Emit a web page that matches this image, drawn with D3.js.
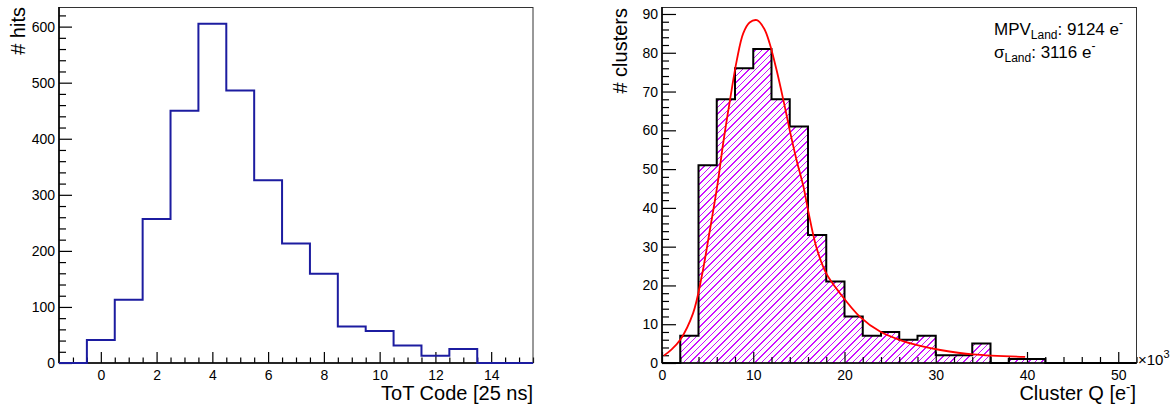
<!DOCTYPE html>
<html>
<head>
<meta charset="utf-8">
<style>
	body { margin: 0; background: #fff; }
	svg text { font-family: "Liberation Sans", Arial, Helvetica, sans-serif; fill: #000; }
</style>
</head>
<body>
<svg width="1175" height="407"></svg>

<script src="https://d3js.org/d3.v7.min.js"></script>
<script>
	// ToT histogram, bins of width 1 centred on the integers
	var totCodes = [-1, 0, 1, 2, 3, 4, 5, 6, 7, 8, 9, 10, 11, 12, 13, 14, 15];
	var totHits = [0, 41, 113, 257, 450, 605, 486, 326, 213, 159, 65, 57, 31, 13, 25, 0, 0];

	// cluster charge (x10^3 e-), lower bin edges, bins of width 2
	var chargeEdges = [0, 2, 4, 6, 8, 10, 12, 14, 16, 18, 20, 22, 24, 26, 28, 30, 32, 34, 36, 38, 40, 42, 44, 46, 48, 50];
	var clusterCounts = [0, 7, 51, 68, 76, 81, 68, 61, 33, 21, 12, 7, 8, 6, 7, 2, 2, 5, 0, 1, 1, 0, 0, 0, 0, 0];

	// landau fit curve
	var fitQ = [0.2, 1.0, 2.0, 3.4, 4.35, 5.25, 6.1, 6.7, 7.45, 8.2, 8.9, 9.6, 10.4, 11.2, 11.8, 12.55, 13.3, 14.0, 14.75, 15.5, 16.0, 16.9, 18.0, 19.5, 21.7, 23.9, 26.1, 28.3, 30.5, 34.1, 39.8];
	var fitN = [1.9, 3.4, 6.0, 12.8, 22.3, 34.3, 46.3, 56.6, 67.8, 78.1, 85.0, 87.8, 88.4, 86.2, 82.4, 75.6, 67.8, 60.0, 52.3, 45.5, 39.5, 30.0, 23.1, 18.0, 11.9, 8.1, 5.9, 4.4, 3.35, 2.2, 1.6];

	var fitLabels = [
		{name: "MPV", sub: "Land", val: ": 9124 e"},
		{name: "\u03c3", sub: "Land", val: ": 3116 e"}
	];

	var svg = d3.select("svg");
	var yTop = 7, yBot = 363;

	function range(a, b, s) {
		var out = [];
		for (var v = a; v <= b + 1e-9; v += s) out.push(+v.toFixed(4));
		return out;
	}

	// draws frame + axes with inward ticks, ROOT style
	function frame(g, x, y, o) {
		var x0 = x.range()[0], x1 = x.range()[1];

		var minorX = range(o.xMinor[0], x.domain()[1], o.xMinor[1]).filter(function(v) { return o.xMajor.indexOf(v) < 0 && v > x.domain()[0]; });
		var minorY = range(0, y.domain()[1], o.yMinor).filter(function(v) { return o.yMajor.indexOf(v) < 0; });

		g.append("g")
			.attr("transform", "translate(0," + yBot + ")")
			.call(d3.axisBottom(x).tickValues(minorX).tickSize(-o.xMin).tickFormat(""))
			.call(function(a) { a.select(".domain").remove(); });
		g.append("g")
			.attr("transform", "translate(0," + yBot + ")")
			.call(d3.axisBottom(x).tickValues(o.xMajor).tickSize(-o.xMaj).tickPadding(7).tickFormat(d3.format("d")))
			.call(function(a) { a.select(".domain").remove(); });

		g.append("g")
			.attr("transform", "translate(" + x0 + ",0)")
			.call(d3.axisLeft(y).tickValues(minorY).tickSize(-o.yMin).tickFormat(""))
			.call(function(a) { a.select(".domain").remove(); });
		g.append("g")
			.attr("transform", "translate(" + x0 + ",0)")
			.call(d3.axisLeft(y).tickValues(o.yMajor).tickSize(-o.yMaj).tickPadding(4).tickFormat(d3.format("d")))
			.call(function(a) { a.select(".domain").remove(); });

		g.selectAll(".tick line").attr("stroke", "#000").attr("stroke-width", 1.2);
		g.selectAll(".tick text")
			.attr("fill", "#000")
			.style("font-size", "14px")
			.style("font-family", "'Liberation Sans', Arial, sans-serif");

		g.append("rect")
			.attr("x", x0).attr("y", yTop + 0.5)
			.attr("width", x1 - x0).attr("height", yBot - yTop - 0.5)
			.attr("fill", "none").attr("stroke", "#333").attr("stroke-width", 1);
		g.append("line")
			.attr("x1", x0).attr("x2", x0).attr("y1", yTop).attr("y2", yBot)
			.attr("stroke", "#000").attr("stroke-width", 1.6);
		g.append("line")
			.attr("x1", x0).attr("x2", x1).attr("y1", yBot).attr("y2", yBot)
			.attr("stroke", "#000").attr("stroke-width", 1.6);
	}

	// ---- left: ToT
	var xL = d3.scaleLinear().domain([-1.5, 15.5]).range([59, 533]);
	var yL = d3.scaleLinear().domain([0, 635]).range([yBot, yTop]);
	var gL = svg.append("g");

	var totPts = totCodes.map(function(c, i) { return [c - 0.5, totHits[i]]; });
	totPts.push([totCodes[totCodes.length - 1] + 0.5, totHits[totHits.length - 1]]);

	frame(gL, xL, yL, {
		xMajor: range(0, 14, 2), xMinor: [-1.5, 0.5], xMaj: 11, xMin: 5.5,
		yMajor: range(0, 600, 100), yMinor: 20, yMaj: 13, yMin: 7
	});

	gL.append("path")
		.datum(totPts)
		.attr("d", d3.line().x(function(d) { return xL(d[0]); }).y(function(d) { return yL(d[1]); }).curve(d3.curveStepAfter))
		.attr("fill", "none")
		.attr("stroke", "#1c1ca0")
		.attr("stroke-width", 2);

	gL.append("text")
		.attr("transform", "translate(25," + yTop + ") rotate(-90)")
		.attr("text-anchor", "end")
		.style("font-size", "20px")
		.text("# hits");
	gL.append("text")
		.attr("x", 533).attr("y", 400)
		.attr("text-anchor", "end")
		.style("font-size", "20px")
		.text("ToT Code [25 ns]");

	// ---- right: cluster charge
	var xR = d3.scaleLinear().domain([0, 52]).range([662, 1136.5]);
	var yR = d3.scaleLinear().domain([0, 91.8]).range([yBot, yTop]);
	var gR = svg.append("g");

	var qPts = chargeEdges.map(function(e, i) { return [e, clusterCounts[i]]; });
	qPts.push([chargeEdges[chargeEdges.length - 1] + 2, clusterCounts[clusterCounts.length - 1]]);

	// hatched fill: diagonal lines clipped to the histogram area
	svg.append("defs").append("clipPath").attr("id", "histclip")
		.append("path")
		.attr("d", d3.area().x(function(d) { return xR(d[0]); }).y0(yBot).y1(function(d) { return yR(d[1]); }).curve(d3.curveStepAfter)(qPts));

	var hatchG = gR.append("g").attr("clip-path", "url(#histclip)");
	var hx0 = xR.range()[0], hx1 = xR.range()[1];
	var offsets = d3.range(hx0 - (yBot - yTop), hx1, 6.5);
	hatchG.selectAll("line")
		.data(offsets)
		.join("line")
		.attr("x1", function(d) { return d; })
		.attr("y1", yBot)
		.attr("x2", function(d) { return d + (yBot - yTop); })
		.attr("y2", yTop)
		.attr("stroke", "#cc11ff")
		.attr("stroke-width", 1)
		.attr("shape-rendering", "crispEdges");

	frame(gR, xR, yR, {
		xMajor: range(0, 50, 10), xMinor: [0, 2], xMaj: 11, xMin: 6,
		yMajor: range(0, 90, 10), yMinor: 2, yMaj: 14, yMin: 7
	});

	gR.append("path")
		.datum(qPts)
		.attr("d", d3.line().x(function(d) { return xR(d[0]); }).y(function(d) { return yR(d[1]); }).curve(d3.curveStepAfter))
		.attr("fill", "none")
		.attr("stroke", "#000")
		.attr("stroke-width", 2);

	gR.append("path")
		.datum(fitQ.map(function(q, i) { return [q, fitN[i]]; }))
		.attr("d", d3.line().x(function(d) { return xR(d[0]); }).y(function(d) { return yR(d[1]); }).curve(d3.curveCatmullRom))
		.attr("fill", "none")
		.attr("stroke", "#ff0000")
		.attr("stroke-width", 1.8);

	gR.append("text")
		.attr("transform", "translate(627," + (yTop + 1) + ") rotate(-90)")
		.attr("text-anchor", "end")
		.style("font-size", "20px")
		.text("# clusters");

	var xt = gR.append("text")
		.attr("x", 1136).attr("y", 400)
		.attr("text-anchor", "end")
		.style("font-size", "20px");
	xt.append("tspan").text("Cluster Q [e");
	xt.append("tspan").attr("dy", -9).style("font-size", "13px").text("-");
	xt.append("tspan").attr("dy", 9).text("]");

	var mult = gR.append("text")
		.attr("x", 1138).attr("y", 365)
		.style("font-size", "15px");
	mult.append("tspan").text("\u00d710");
	mult.append("tspan").attr("dy", -7).style("font-size", "11px").text("3");

	fitLabels.forEach(function(l, i) {
		var t = gR.append("text")
			.attr("x", 994).attr("y", 35 + i * 23)
			.style("font-size", "17px");
		t.append("tspan").text(l.name);
		t.append("tspan").attr("dy", 4).style("font-size", "12px").text(l.sub);
		t.append("tspan").attr("dy", -4).text(l.val);
		t.append("tspan").attr("dy", -8).style("font-size", "12px").text("-");
	});
</script>
</body>
</html>
